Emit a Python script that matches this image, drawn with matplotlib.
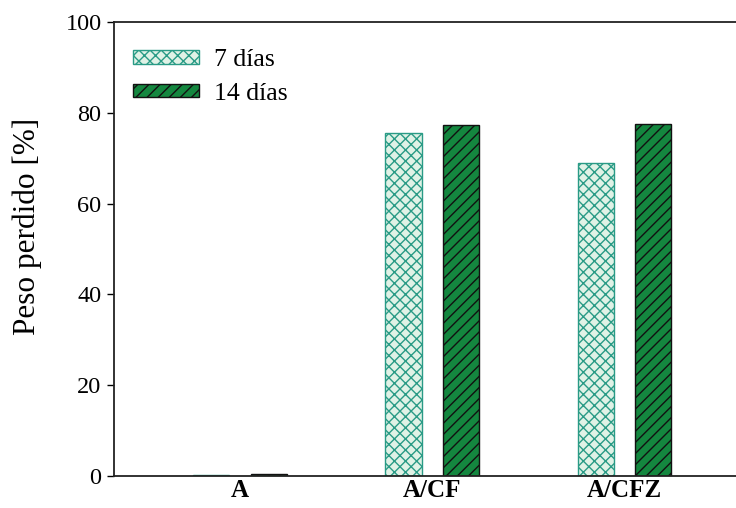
import matplotlib
matplotlib.use("Agg")
import matplotlib.pyplot as plt
import numpy as np

categories = ["A", "A/CF", "A/CFZ"]
series_labels = ["7 días", "14 días"]
peso_7 = [0.3, 75.5, 69.0]
peso_14 = [0.5, 77.3, 77.5]
yticks = [0, 20, 40, 60, 80, 100]

plt.rcParams["font.family"] = ["Liberation Serif", "DejaVu Serif"]
plt.rcParams["hatch.linewidth"] = 1.0

fig = plt.figure(figsize=(7.36, 5.08), dpi=100)
ax = fig.add_axes([0.155, 0.063, 0.845, 0.894])

x = np.arange(len(categories))
w = 0.1875
off = 0.15

ax.bar(x - off, peso_7, width=w, color="#e0f2e6", edgecolor="#2a9b86",
       hatch="xxx", linewidth=1.0, label=series_labels[0])
ax.bar(x + off, peso_14, width=w, color="#14873f", edgecolor="#111111",
       hatch="///", linewidth=1.0, label=series_labels[1])

ax.set_xlim(-0.656, 2.58)
ax.set_ylim(0, 100)
ax.set_yticks(yticks)
ax.set_xticks(x)
ax.set_xticklabels(categories, fontsize=18, fontweight="bold")
ax.tick_params(axis="x", length=0, pad=2.5)
ax.tick_params(axis="y", direction="out", length=5, width=1.0, labelsize=17.5, pad=4)
ax.set_ylabel("Peso perdido [%]", fontsize=22.5)
ax.yaxis.set_label_coords(-0.116, 0.55)

for s in ["left", "top", "bottom"]:
    ax.spines[s].set_linewidth(1.3)
    ax.spines[s].set_color("#222222")
ax.spines["right"].set_visible(False)

leg = ax.legend(loc="upper left", frameon=False, fontsize=18.5,
                handlelength=2.55, handleheight=0.42, handletextpad=0.6,
                labelspacing=0.45, bbox_to_anchor=(0.0305, 0.94),
                borderaxespad=0.0, borderpad=0.0)

fig.savefig("out.png", dpi=100)
